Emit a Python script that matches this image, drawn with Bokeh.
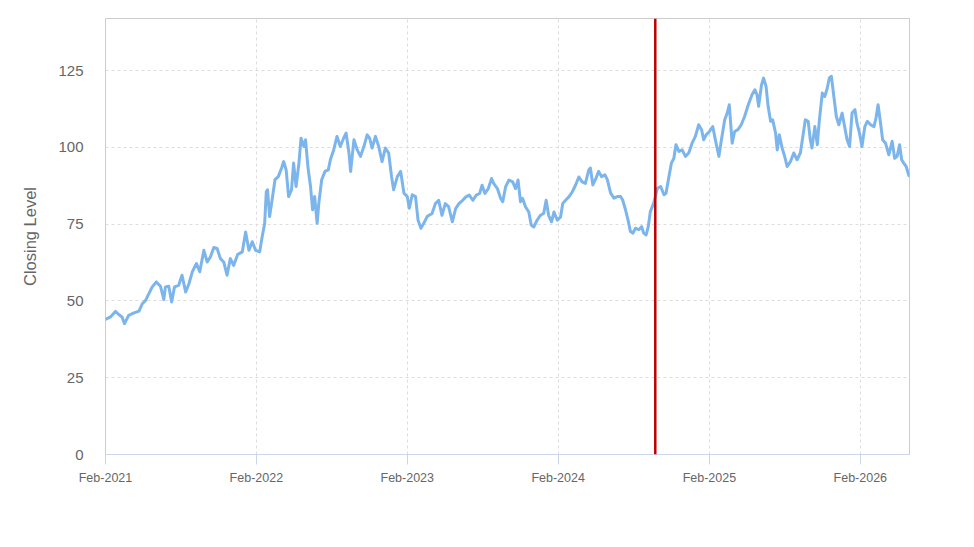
import pandas as pd
from bokeh.plotting import figure
from bokeh.models import Range1d, FixedTicker, DatetimeTickFormatter, Span
from bokeh.embed import file_html
from bokeh.resources import INLINE

# ---- data ----
dates = [
    "2021-02-01", "2021-02-13", "2021-02-25", "2021-03-05", "2021-03-13", "2021-03-19",
    "2021-03-29", "2021-04-11", "2021-04-23", "2021-05-01", "2021-05-09", "2021-05-17",
    "2021-05-25", "2021-06-04", "2021-06-14", "2021-06-22", "2021-06-26", "2021-07-04",
    "2021-07-11", "2021-07-18", "2021-07-28", "2021-08-05", "2021-08-14", "2021-08-22",
    "2021-08-30", "2021-09-09", "2021-09-17", "2021-09-27", "2021-10-05", "2021-10-13",
    "2021-10-21", "2021-10-29", "2021-11-06", "2021-11-14", "2021-11-22", "2021-11-30",
    "2021-12-08", "2021-12-18", "2021-12-29", "2022-01-06", "2022-01-14", "2022-01-22",
    "2022-01-30", "2022-02-09", "2022-02-15", "2022-02-21", "2022-02-25", "2022-02-28",
    "2022-03-05", "2022-03-11", "2022-03-18", "2022-03-26", "2022-04-03", "2022-04-08",
    "2022-04-14", "2022-04-20", "2022-04-27", "2022-05-02", "2022-05-08", "2022-05-15",
    "2022-05-20", "2022-05-27", "2022-05-31", "2022-06-06", "2022-06-12", "2022-06-17",
    "2022-06-22", "2022-06-28", "2022-07-02", "2022-07-09", "2022-07-17", "2022-07-25",
    "2022-07-30", "2022-08-07", "2022-08-15", "2022-08-23", "2022-08-31", "2022-09-06",
    "2022-09-13", "2022-09-17", "2022-09-25", "2022-10-03", "2022-10-11", "2022-10-19",
    "2022-10-27", "2022-11-02", "2022-11-08", "2022-11-16", "2022-11-24", "2022-12-02",
    "2022-12-10", "2022-12-18", "2022-12-25", "2022-12-30", "2023-01-08", "2023-01-16",
    "2023-01-24", "2023-02-01", "2023-02-06", "2023-02-13", "2023-02-21", "2023-02-27",
    "2023-03-06", "2023-03-13", "2023-03-21", "2023-04-02", "2023-04-10", "2023-04-18",
    "2023-04-26", "2023-05-04", "2023-05-12", "2023-05-21", "2023-05-29", "2023-06-06",
    "2023-06-15", "2023-06-23", "2023-07-01", "2023-07-10", "2023-07-18", "2023-07-26",
    "2023-08-01", "2023-08-08", "2023-08-16", "2023-08-24", "2023-08-29", "2023-09-07",
    "2023-09-15", "2023-09-20", "2023-09-27", "2023-10-05", "2023-10-14", "2023-10-21",
    "2023-10-27", "2023-11-02", "2023-11-07", "2023-11-14", "2023-11-22", "2023-11-28",
    "2023-12-04", "2023-12-12", "2023-12-20", "2023-12-28", "2024-01-03", "2024-01-09",
    "2024-01-16", "2024-01-22", "2024-01-30", "2024-02-07", "2024-02-12", "2024-02-19",
    "2024-02-27", "2024-03-06", "2024-03-14", "2024-03-22", "2024-03-30", "2024-04-07",
    "2024-04-15", "2024-04-19", "2024-04-25", "2024-05-01", "2024-05-09", "2024-05-16",
    "2024-05-24", "2024-05-30", "2024-06-07", "2024-06-15", "2024-06-23", "2024-07-01",
    "2024-07-06", "2024-07-13", "2024-07-19", "2024-07-25", "2024-07-31", "2024-08-06",
    "2024-08-14", "2024-08-21", "2024-08-26", "2024-09-01", "2024-09-06", "2024-09-11",
    "2024-09-19", "2024-09-28", "2024-10-06", "2024-10-14", "2024-10-19", "2024-10-26",
    "2024-11-01", "2024-11-07", "2024-11-12", "2024-11-19", "2024-11-27", "2024-12-05",
    "2024-12-13", "2024-12-21", "2024-12-29", "2025-01-06", "2025-01-13", "2025-01-18",
    "2025-01-24", "2025-02-01", "2025-02-09", "2025-02-17", "2025-02-24", "2025-03-02",
    "2025-03-10", "2025-03-16", "2025-03-21", "2025-03-28", "2025-04-03", "2025-04-11",
    "2025-04-19", "2025-04-27", "2025-05-06", "2025-05-15", "2025-05-22", "2025-05-27",
    "2025-05-31", "2025-06-07", "2025-06-12", "2025-06-18", "2025-06-23", "2025-06-29",
    "2025-07-04", "2025-07-11", "2025-07-15", "2025-07-20", "2025-07-27", "2025-08-02",
    "2025-08-08", "2025-08-16", "2025-08-24", "2025-09-01", "2025-09-09", "2025-09-15",
    "2025-09-21", "2025-09-28", "2025-10-03", "2025-10-07", "2025-10-14", "2025-10-20",
    "2025-10-25", "2025-11-01", "2025-11-07", "2025-11-13", "2025-11-18", "2025-11-23",
    "2025-11-29", "2025-12-05", "2025-12-11", "2025-12-19", "2025-12-25", "2025-12-31",
    "2026-01-06", "2026-01-12", "2026-01-19", "2026-01-24", "2026-01-30", "2026-02-05",
    "2026-02-12", "2026-02-18", "2026-02-26", "2026-03-06", "2026-03-11", "2026-03-16",
    "2026-03-22", "2026-03-27", "2026-04-03", "2026-04-11", "2026-04-19", "2026-04-25",
    "2026-05-01", "2026-05-07", "2026-05-12", "2026-05-17", "2026-05-23", "2026-05-29",
    "2026-05-31",
]
closing = [
    44.0, 44.8, 46.6, 45.6, 44.8, 42.6,
    45.3, 46.1, 46.7, 49.1, 50.2, 52.4,
    54.6, 56.2, 54.8, 50.5, 54.6, 54.8,
    49.7, 54.6, 55.1, 58.4, 52.9, 55.7,
    59.5, 62.2, 59.5, 66.5, 62.7, 64.4,
    67.4, 67.1, 63.8, 62.7, 58.4, 63.8,
    61.6, 65.2, 66.0, 72.5, 66.5, 69.3,
    66.5, 66.0, 70.9, 75.2, 85.6, 86.2,
    77.5, 82.9, 89.5, 90.5, 93.3, 95.4,
    92.7, 84.0, 86.2, 94.9, 87.3, 94.9,
    103.0, 100.3, 102.5, 93.3, 87.3, 79.7,
    84.0, 75.3, 81.8, 89.5, 92.2, 92.7,
    96.0, 99.2, 103.6, 100.3, 103.0, 104.7,
    98.2, 92.2, 102.5, 99.2, 97.1, 100.3,
    104.1, 103.0, 99.8, 103.6, 100.3, 95.4,
    99.8, 98.2, 90.5, 86.2, 90.5, 92.2,
    85.1, 84.0, 80.2, 84.6, 84.0, 76.4,
    73.7, 75.3, 77.5, 78.5, 81.7, 82.8,
    77.9, 81.7, 80.7, 75.8, 80.1, 81.7,
    82.8, 83.9, 84.5, 82.8, 84.5, 85.0,
    87.7, 85.0, 86.6, 89.9, 88.3, 86.6,
    83.4, 82.3, 87.2, 89.4, 88.8, 86.6,
    89.4, 82.3, 83.4, 80.7, 79.0, 74.7,
    74.1, 76.3, 77.9, 78.5, 82.8, 77.9,
    75.8, 79.0, 76.3, 77.4, 81.7, 82.8,
    83.9, 85.5, 87.7, 90.4, 88.8, 88.3,
    92.6, 93.3, 87.8, 89.5, 92.2, 90.5,
    91.1, 89.5, 85.1, 83.5, 84.0, 84.0,
    82.9, 79.7, 76.4, 72.6, 72.1, 73.7,
    73.2, 74.2, 72.1, 71.5, 74.2, 79.1,
    81.8, 86.7, 87.3, 84.6, 85.1, 90.5,
    94.9, 96.5, 100.9, 98.7, 99.2, 97.1,
    98.2, 101.4, 103.6, 107.4, 105.8, 102.5,
    104.1, 105.2, 106.8, 101.4, 97.1, 102.5,
    109.0, 111.2, 113.9, 101.4, 105.2, 105.8,
    107.4, 110.1, 113.9, 117.2, 118.8, 117.2,
    113.4, 120.4, 122.6, 119.9, 113.4, 108.5,
    109.0, 104.7, 99.2, 104.1, 99.8, 97.1,
    93.8, 95.4, 98.2, 96.0, 98.2, 103.6,
    109.0, 108.5, 102.5, 99.8, 106.8, 100.9,
    109.0, 117.7, 116.6, 119.3, 122.6, 123.2,
    116.6, 110.1, 107.4, 111.2, 106.8, 102.5,
    100.3, 111.2, 112.3, 107.9, 104.7, 100.3,
    106.8, 108.5, 107.4, 106.8, 109.6, 113.9,
    107.9, 102.5, 101.4, 97.6, 102.0, 96.5,
    97.1, 100.9, 96.0, 94.9, 93.8, 91.1,
    90.5,
]
x_start = "2021-02-01"
x_end = "2026-05-31"
marker_date = "2024-09-23"
tick_dates = ["2021-02-01", "2022-02-01", "2023-02-01", "2024-02-01", "2025-02-01", "2026-02-01"]
y_ticks = [0, 25, 50, 75, 100, 125]
y_max = 142
y_label = "Closing Level"

# ---- chart ----
def ms(d):
    return pd.Timestamp(d).value // 10**6

x = pd.to_datetime(dates)

p = figure(width=974, height=547, x_axis_type="datetime",
           output_backend="svg", toolbar_location=None,
           x_range=Range1d(ms(x_start), ms(x_end)),
           y_range=Range1d(0, y_max),
           min_border_left=105, min_border_right=65,
           min_border_top=18, min_border_bottom=93)

p.background_fill_color = "white"
p.border_fill_color = "white"
p.outline_line_color = "#cccccc"
p.outline_line_width = 1

FONT = "Liberation Sans"
TXT = "#666666"

# grids
p.xgrid.ticker = FixedTicker(ticks=[ms(d) for d in tick_dates])
p.xgrid.grid_line_color = "#dddddd"
p.xgrid.grid_line_dash = "3 3"
p.ygrid.grid_line_color = "#dddddd"
p.ygrid.grid_line_dash = "3 3"

# x axis
xa = p.xaxis[0]
xa.ticker = FixedTicker(ticks=[ms(d) for d in tick_dates])
fmt = "%b-%Y"
xa.formatter = DatetimeTickFormatter(milliseconds=fmt, seconds=fmt, minsec=fmt, minutes=fmt,
                                     hourmin=fmt, hours=fmt, days=fmt, months=fmt, years=fmt)
xa.axis_line_color = "#ccd6eb"
xa.major_tick_line_color = "#ccd6eb"
xa.major_tick_out = 10
xa.major_tick_in = 0
xa.minor_tick_line_color = None
xa.major_label_text_font = FONT
xa.major_label_text_font_size = "12.5px"
xa.major_label_text_color = TXT
xa.major_label_standoff = 6

# y axis
ya = p.yaxis[0]
ya.ticker = FixedTicker(ticks=y_ticks)
ya.axis_line_color = None
ya.major_tick_line_color = None
ya.minor_tick_line_color = None
ya.major_tick_out = 0
ya.major_tick_in = 0
ya.major_label_standoff = 22
ya.major_label_text_font = FONT
ya.major_label_text_font_size = "15px"
ya.major_label_text_color = TXT
ya.axis_label = y_label
ya.axis_label_text_font = FONT
ya.axis_label_text_font_size = "16.5px"
ya.axis_label_text_font_style = "normal"
ya.axis_label_text_color = TXT
ya.axis_label_standoff = 16

p.line(x, closing, line_color="#7cb5ec", line_width=3, line_join="round")

p.add_layout(Span(location=ms(marker_date), dimension="height",
                  line_color="#c00000", line_width=2.5))

open("out.html", "w").write(file_html(p, INLINE))
